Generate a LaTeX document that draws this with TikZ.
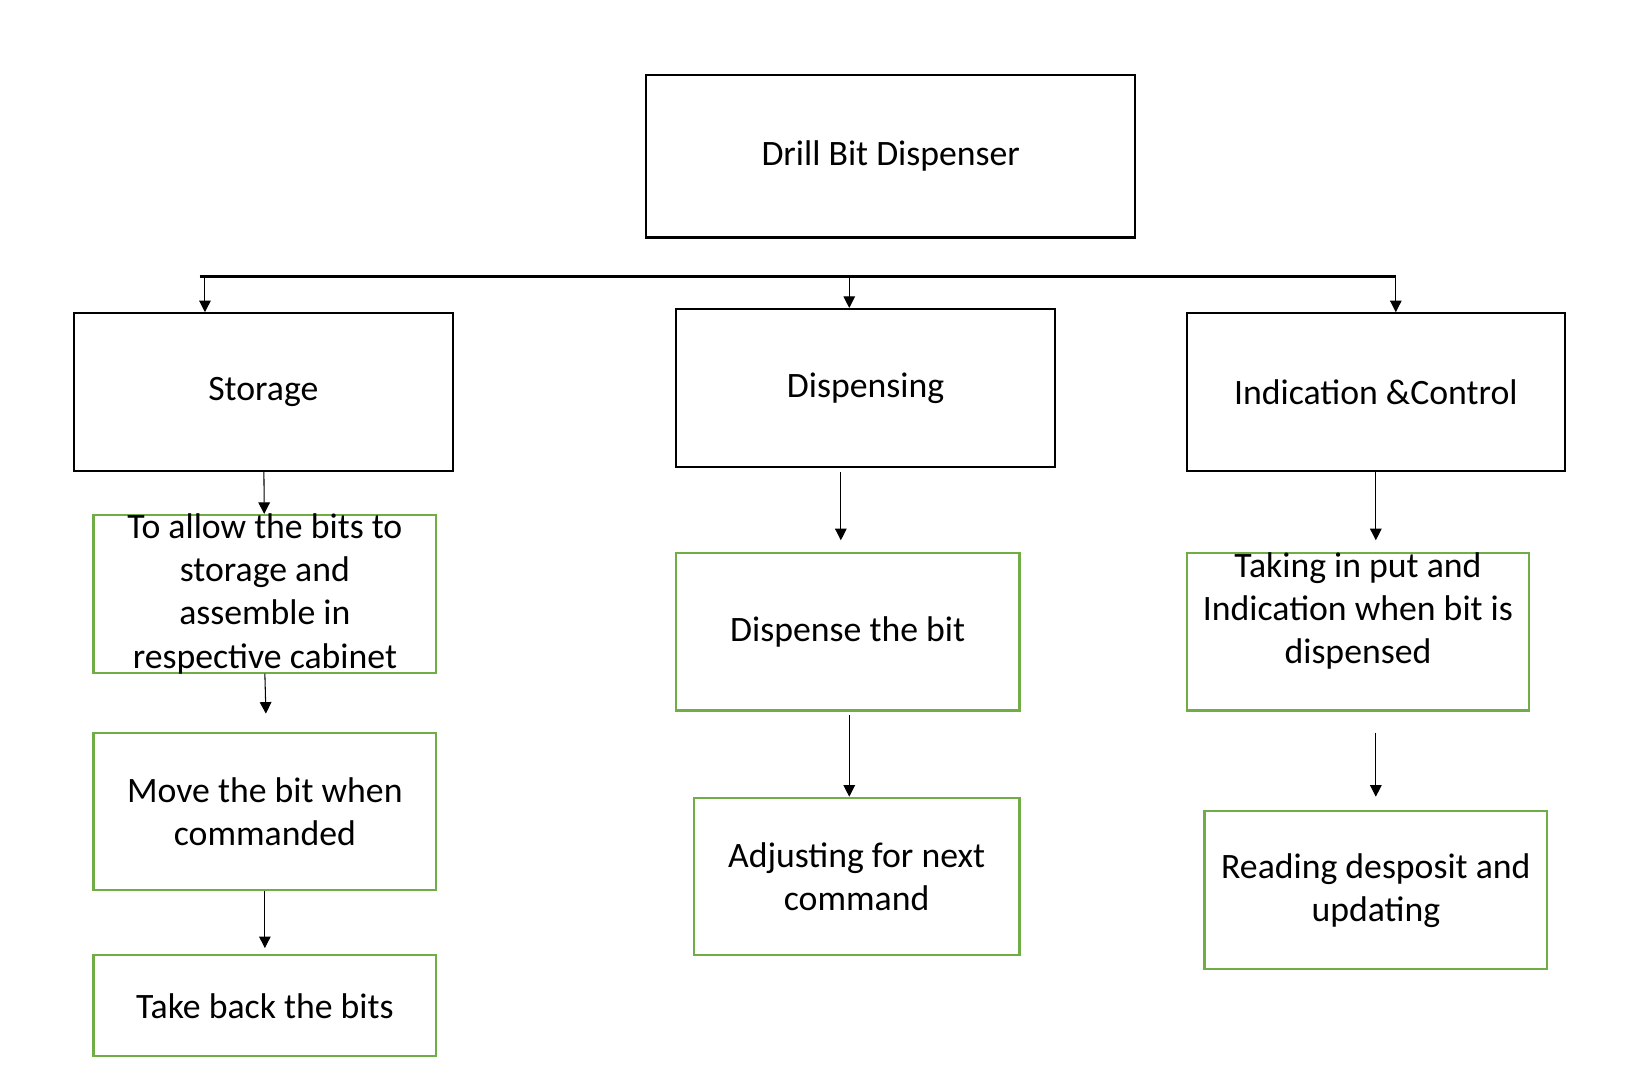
\documentclass[tikz,border=0pt]{standalone}
\usepackage{fontspec}
\setmainfont{Carlito}
\usepackage{xcolor}
\usepackage{tikz}
\usetikzlibrary{arrows.meta}
\definecolor{boxgreen}{RGB}{112,173,71}

\begin{document}
\begin{tikzpicture}[x=0.5pt,y=-0.5pt,
    font=\fontsize{17pt}{20.5pt}\selectfont,
    blackbox/.style={draw=black,line width=1pt,minimum width=180.5pt,minimum height=75pt,inner sep=0pt,align=center},
    greenbox/.style={draw=boxgreen,line width=1pt,minimum width=163pt,minimum height=75pt,inner sep=0pt,align=center},
    arr/.style={-{Triangle[length=5.5pt,width=5.5pt]},line width=0.5pt},
    bar/.style={line width=1.5pt}]
    \useasboundingbox (0,0) rectangle (1567,1027.6);

    \node[blackbox,minimum width=232.5pt,minimum height=77.5pt] (top) at (847.5,148.5) {Drill Bit Dispenser};
    \node[blackbox] (stor) at (250.5,373) {Storage};
    \node[blackbox] (disp) at (823.5,369) {Dispensing};
    \node[blackbox,minimum width=180pt] (ctrl) at (1309,373) {Indication \&Control};

    \node[greenbox] (stor1) at (252,565) {};
    \node[align=center] (stor1txt) at (stor1) {To allow the bits to\\storage and\\assemble in\\respective cabinet};
    \node[greenbox] (stor2) at (252,772) {Move the bit when\\commanded};
    \node[greenbox,minimum height=48pt] (stor3) at (252,957) {Take back the bits};

    \node[greenbox,minimum width=163.5pt] (disp1) at (806.5,601) {Dispense the bit};
    \node[greenbox,minimum width=155pt] (disp2) at (815,834) {Adjusting for next\\command};

    \node[greenbox] (ctrl1) at (1292,601) {};
    \node[align=center] (ctrl1txt) at (1292,581) {Taking in put and\\Indication when bit is\\dispensed};
    \node[greenbox] (ctrl2) at (1309,847) {Reading desposit and\\updating};

    \coordinate (barl) at (190,263);
    \coordinate (barr) at (1328,263);
    \coordinate (t1) at (195,263);
    \coordinate (t2) at (808,263);
    \coordinate (s1) at (253,679);
    \coordinate (d0) at (800,449);
    \coordinate (d1) at (800,514);
    \coordinate (d2) at (808,680);
    \coordinate (c1) at (1309,514);
    \coordinate (c2) at (1309,697);
    \coordinate (c3) at (1309,758);

    \draw[bar] (barl) -- (barr);
    \draw[arr] (t1) -- (t1 |- stor.north);
    \draw[arr] (t2) -- (t2 |- disp.north);
    \draw[arr] (barr) -- (barr |- ctrl.north);

    \draw[arr] (stor) to (stor1);
    \draw[arr] (stor1.south) -- (s1);
    \draw[arr,shorten >=3pt] (stor2.south) -- (stor3.north);

    \draw[arr] (d0) -- (d1);
    \draw[arr] (d2) -- (d2 |- disp2.north);

    \draw[arr] (ctrl.south) -- (c1);
    \draw[arr] (c2) -- (c3);
\end{tikzpicture}
\end{document}
